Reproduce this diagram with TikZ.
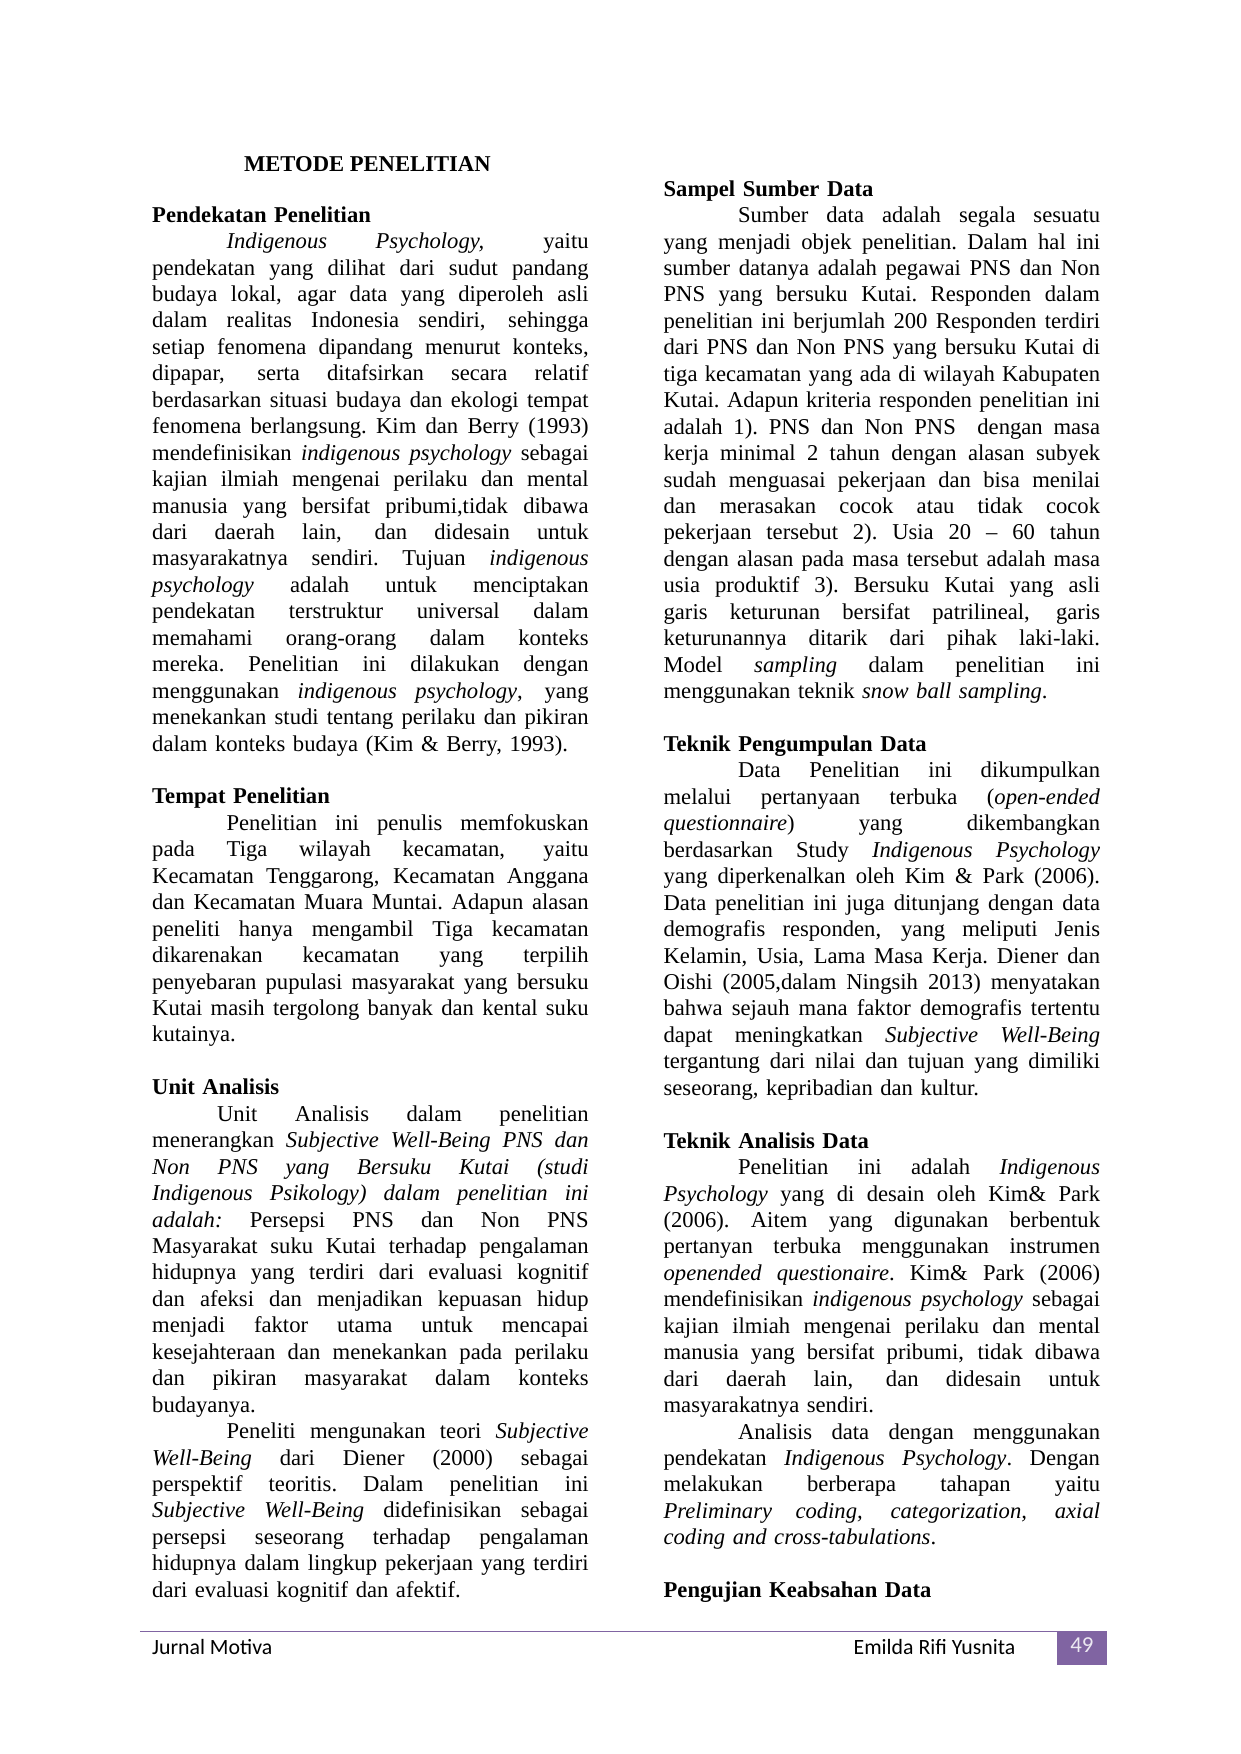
\documentclass[tikz,border=0pt]{standalone}
\usepackage{fontspec}
\setmainfont{Liberation Serif}
\newfontfamily\calfont{Carlito}
\definecolor{purp}{HTML}{8064A2}
\newlength\cw \setlength\cw{7.39cm}
\newcommand\J[1]{\noindent\hbox to\cw{\spaceskip=.25em plus 1fil\xspaceskip=\spaceskip #1}\par}
\newcommand\Lz[1]{\noindent\makebox[\cw][l]{#1}\par}
\newcommand\I{\hspace*{1.26cm}}
\tikzset{col/.style={anchor=north west,inner sep=0pt,text width=\cw,align=left,font=\fontsize{10.9}{12.74}\selectfont}}
\begin{document}
\begin{tikzpicture}
\useasboundingbox (0,0) rectangle (21,29.7);
\node (title) [anchor=base,font=\fontsize{10.9}{12.74}\selectfont\bfseries] at (6.22,26.80) {METODE PENELITIAN};
\node (left) [col] at (2.57,26.21) {%
\Lz{\textbf{Pendekatan Penelitian}}
\J{\I\textit{Indigenous Psychology,} yaitu}
\J{pendekatan yang dilihat dari sudut pandang}
\J{budaya lokal, agar data yang diperoleh asli}
\J{dalam realitas Indonesia sendiri, sehingga}
\J{setiap fenomena dipandang menurut konteks,}
\J{dipapar, serta ditafsirkan secara relatif}
\J{berdasarkan situasi budaya dan ekologi tempat}
\J{fenomena berlangsung. Kim dan Berry (1993)}
\J{mendefinisikan \textit{indigenous psychology} sebagai}
\J{kajian ilmiah mengenai perilaku dan mental}
\J{manusia yang bersifat pribumi,tidak dibawa}
\J{dari daerah lain, dan didesain untuk}
\J{masyarakatnya sendiri. Tujuan \textit{indigenous}}
\J{\textit{psychology} adalah untuk menciptakan}
\J{pendekatan terstruktur universal dalam}
\J{memahami orang-orang dalam konteks}
\J{mereka. Penelitian ini dilakukan dengan}
\J{menggunakan \textit{indigenous psychology}, yang}
\J{menekankan studi tentang perilaku dan pikiran}
\Lz{dalam konteks budaya (Kim \& Berry, 1993).}
\Lz{}
\Lz{\textbf{Tempat Penelitian}}
\J{\I Penelitian ini penulis memfokuskan}
\J{pada Tiga wilayah kecamatan, yaitu}
\J{Kecamatan Tenggarong, Kecamatan Anggana}
\J{dan Kecamatan Muara Muntai. Adapun alasan}
\J{peneliti hanya mengambil Tiga kecamatan}
\J{dikarenakan kecamatan yang terpilih}
\J{penyebaran pupulasi masyarakat yang bersuku}
\J{Kutai masih tergolong banyak dan kental suku}
\Lz{kutainya.}
\Lz{}
\Lz{\textbf{Unit Analisis}}
\J{\hspace*{1.1cm}Unit Analisis dalam penelitian}
\J{menerangkan \textit{Subjective Well-Being PNS dan}}
\J{\textit{Non PNS yang Bersuku Kutai (studi}}
\J{\textit{Indigenous Psikology) dalam penelitian ini}}
\J{\textit{adalah:} Persepsi PNS dan Non PNS}
\J{Masyarakat suku Kutai terhadap pengalaman}
\J{hidupnya yang terdiri dari evaluasi kognitif}
\J{dan afeksi dan menjadikan kepuasan hidup}
\J{menjadi faktor utama untuk mencapai}
\J{kesejahteraan dan menekankan pada perilaku}
\J{dan pikiran masyarakat dalam konteks}
\Lz{budayanya.}
\J{\I Peneliti mengunakan teori \textit{Subjective}}
\J{\textit{Well-Being} dari Diener (2000) sebagai}
\J{perspektif teoritis. Dalam penelitian ini}
\J{\textit{Subjective Well-Being} didefinisikan sebagai}
\J{persepsi seseorang terhadap pengalaman}
\J{hidupnya dalam lingkup pekerjaan yang terdiri}
\Lz{dari evaluasi kognitif dan afektif.}
};
\node (right) [col] at (11.23,26.65) {%
\Lz{\textbf{Sampel Sumber Data}}
\J{\I Sumber data adalah segala sesuatu}
\J{yang menjadi objek penelitian. Dalam hal ini}
\J{sumber datanya adalah pegawai PNS dan Non}
\J{PNS yang bersuku Kutai. Responden dalam}
\J{penelitian ini berjumlah 200 Responden terdiri}
\J{dari PNS dan Non PNS yang bersuku Kutai di}
\J{tiga kecamatan yang ada di wilayah Kabupaten}
\J{Kutai. Adapun kriteria responden penelitian ini}
\J{adalah 1). PNS dan Non PNS \ dengan masa}
\J{kerja minimal 2 tahun dengan alasan subyek}
\J{sudah menguasai pekerjaan dan bisa menilai}
\J{dan merasakan cocok atau tidak cocok}
\J{pekerjaan tersebut 2). Usia 20 -- 60 tahun}
\J{dengan alasan pada masa tersebut adalah masa}
\J{usia produktif 3). Bersuku Kutai yang asli}
\J{garis keturunan bersifat patrilineal, garis}
\J{keturunannya ditarik dari pihak laki-laki.}
\J{Model \textit{sampling} dalam penelitian ini}
\Lz{menggunakan teknik \textit{snow ball sampling}.}
\Lz{}
\Lz{\textbf{Teknik Pengumpulan Data}}
\J{\I Data Penelitian ini dikumpulkan}
\J{melalui pertanyaan terbuka (\textit{open-ended}}
\J{\textit{questionnaire}) yang dikembangkan}
\J{berdasarkan Study \textit{Indigenous Psychology}}
\J{yang diperkenalkan oleh Kim \& Park (2006).}
\J{Data penelitian ini juga ditunjang dengan data}
\J{demografis responden, yang meliputi Jenis}
\J{Kelamin, Usia, Lama Masa Kerja. Diener dan}
\J{Oishi (2005,dalam Ningsih 2013) menyatakan}
\J{bahwa sejauh mana faktor demografis tertentu}
\J{dapat meningkatkan \textit{Subjective Well-Being}}
\J{tergantung dari nilai dan tujuan yang dimiliki}
\Lz{seseorang, kepribadian dan kultur.}
\Lz{}
\Lz{\textbf{Teknik Analisis Data}}
\J{\I Penelitian ini adalah \textit{Indigenous}}
\J{\textit{Psychology} yang di desain oleh Kim\& Park}
\J{(2006). Aitem yang digunakan berbentuk}
\J{pertanyan terbuka menggunakan instrumen}
\J{\textit{openended questionaire}. Kim\& Park (2006)}
\J{mendefinisikan \textit{indigenous psychology} sebagai}
\J{kajian ilmiah mengenai perilaku dan mental}
\J{manusia yang bersifat pribumi, tidak dibawa}
\J{dari daerah lain, dan didesain untuk}
\Lz{masyarakatnya sendiri.}
\J{\I Analisis data dengan menggunakan}
\J{pendekatan \textit{Indigenous Psychology}. Dengan}
\J{melakukan berberapa tahapan yaitu}
\J{\textit{Preliminary coding, categorization, axial}}
\Lz{\textit{coding and cross-tabulations}.}
\Lz{}
\Lz{\textbf{Pengujian Keabsahan Data}}
};
\coordinate (fl) at (2.37,2.08);
\coordinate (fr) at (18.75,2.08);
\draw[purp,line width=0.6pt] (fl) -- (fr);
\fill[purp] (17.9,2.08) rectangle (18.75,1.5);
\node (num) [font=\calfont\fontsize{11}{13}\selectfont,text=white!85!purp] at (18.32,1.85) {49};
\node (jm) [anchor=west,inner sep=0pt,font=\calfont\fontsize{10.5}{13}\selectfont] at (2.57,1.81) {Jurnal Motiva};
\node (au) [anchor=east,inner sep=0pt,font=\calfont\fontsize{10.5}{13}\selectfont] at (17.2,1.81) {Emilda Rifi Yusnita};
\end{tikzpicture}
\end{document}
